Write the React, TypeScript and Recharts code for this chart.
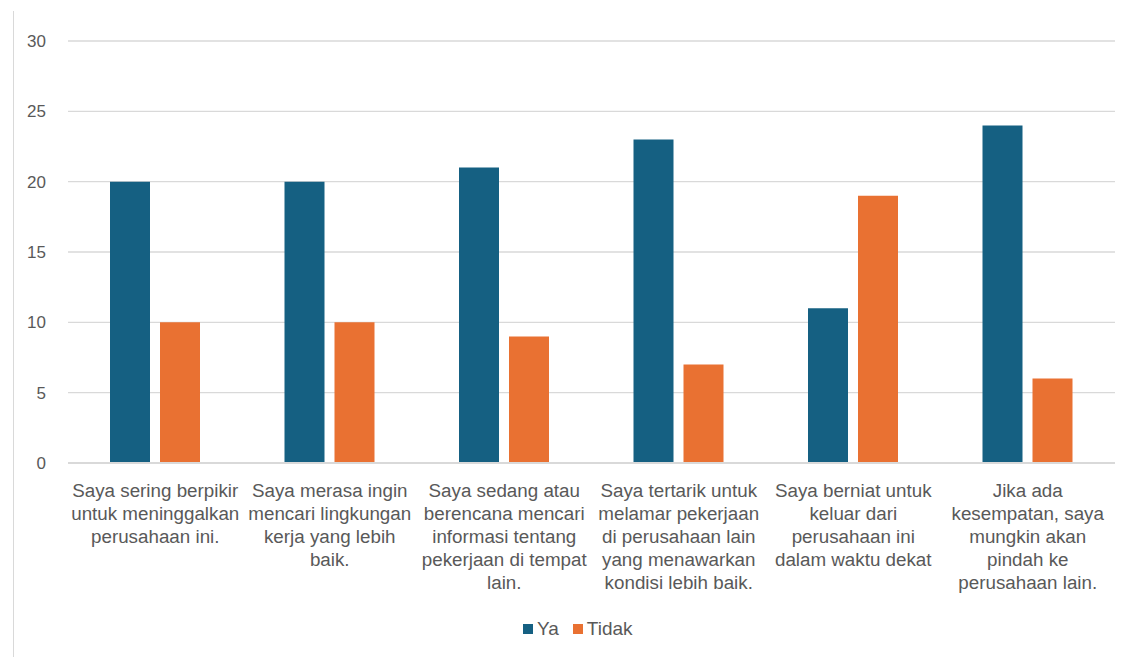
import { BarChart, Bar, XAxis, YAxis, CartesianGrid, Legend } from "recharts";

const categories = [
  "Saya sering berpikir\nuntuk meninggalkan\nperusahaan ini.",
  "Saya merasa ingin\nmencari lingkungan\nkerja yang lebih\nbaik.",
  "Saya sedang atau\nberencana mencari\ninformasi tentang\npekerjaan di tempat\nlain.",
  "Saya tertarik untuk\nmelamar pekerjaan\ndi perusahaan lain\nyang menawarkan\nkondisi lebih baik.",
  "Saya berniat untuk\nkeluar dari\nperusahaan ini\ndalam waktu dekat",
  "Jika ada\nkesempatan, saya\nmungkin akan\npindah ke\nperusahaan lain.",
];
const ya = [20, 20, 21, 23, 11, 24];
const tidak = [10, 10, 9, 7, 19, 6];
const yTicks = [0, 5, 10, 15, 20, 25, 30];

const data = categories.map((name, i) => ({ name, Ya: ya[i], Tidak: tidak[i] }));

const FONT = "'Liberation Sans', Arial, sans-serif";
const TEXT = "#595959";

function CategoryTick(props: any) {
  const { x, y, payload } = props;
  const lines = String(payload.value).split("\n");
  return (
    <text x={x} y={y + 26} textAnchor="middle" fill={TEXT} fontSize={18.8} fontFamily={FONT}>
      {lines.map((line, i) => (
        <tspan key={i} x={x} dy={i === 0 ? 0 : 23}>
          {line}
        </tspan>
      ))}
    </text>
  );
}

function LegendContent() {
  const items = [
    { label: "Ya", color: "#156082" },
    { label: "Tidak", color: "#E97132" },
  ];
  return (
    <div style={{ position: "relative", height: 0 }}>
      <div style={{ position: "absolute", left: 523, top: -2, display: "flex", alignItems: "center", gap: 14, fontFamily: FONT, fontSize: 19, color: TEXT }}>
        {items.map((it) => (
          <div key={it.label} style={{ display: "flex", alignItems: "center", gap: 4 }}>
            <span style={{ width: 10, height: 10, background: it.color, display: "inline-block" }} />
            <span>{it.label}</span>
          </div>
        ))}
      </div>
    </div>
  );
}

export default function App() {
  return (
    <div style={{ position: "absolute", left: 0, top: 0, width: 1131, height: 657, background: "#fff" }}>
      <div style={{ position: "absolute", left: 13, top: 11, width: 1, height: 646, background: "#d9d9d9" }} />
      <BarChart
        width={1131}
        height={657}
        data={data}
        margin={{ top: 41, right: 16, bottom: 0, left: 8 }}
        barGap={10}
        barSize={40}
      >
        <CartesianGrid vertical={false} stroke="#d9d9d9" strokeWidth={1.3} />
        <XAxis
          dataKey="name"
          interval={0}
          height={194}
          tickLine={false}
          axisLine={{ stroke: "#d9d9d9", strokeWidth: 2 }}
          tick={<CategoryTick />}
        />
        <YAxis
          width={60}
          domain={[0, 30]}
          ticks={yTicks}
          tickLine={false}
          axisLine={false}
          tickMargin={16}
          tick={{ fill: TEXT, fontSize: 17, fontFamily: FONT }}
        />
        <Legend
          content={<LegendContent />}
          wrapperStyle={{ position: "absolute", top: 620, left: 0, width: 1131, height: 0 }}
        />
        <Bar dataKey="Ya" fill="#156082" isAnimationActive={false} />
        <Bar dataKey="Tidak" fill="#E97132" isAnimationActive={false} />
      </BarChart>
    </div>
  );
}
